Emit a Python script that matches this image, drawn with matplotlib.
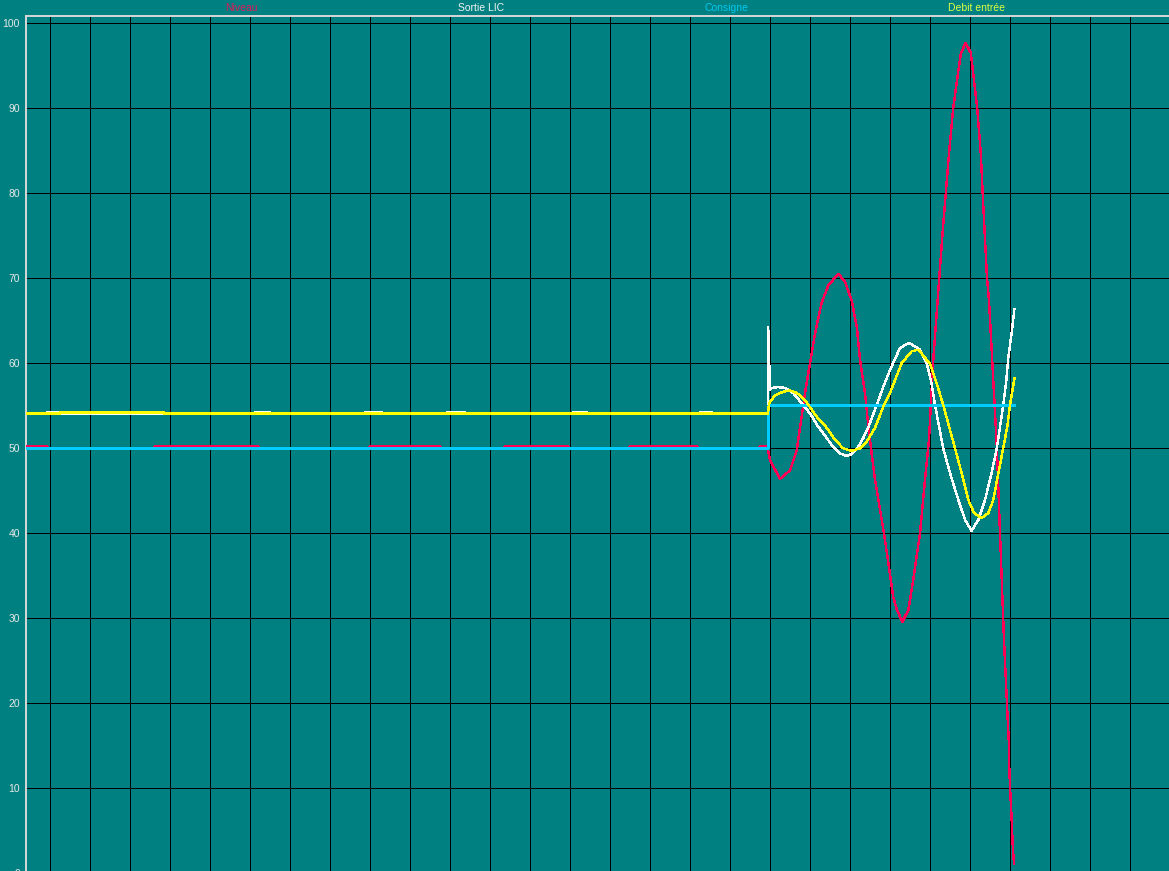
import matplotlib
matplotlib.use("Agg")
import matplotlib.pyplot as plt

# ---------------- data (time in s, grid every 10 s) ----------------
STEP_T = 179.5

niveau_t = [-6.25, -0.75, -0.5, 26.0, 26.25, 52.0, 52.25, 79.75, 80.0, 97.5, 97.75,
            113.5, 113.75, 129.5, 129.75, 144.75, 145.0, 161.75, 162.0, 177.25, 177.5,
            179.3, 180.0, 182.5, 185.0, 186.7, 187.9, 188.75, 190.0, 191.25, 192.9,
            194.6, 197.1, 198.75, 200.4, 201.7, 202.5, 203.75, 204.6, 205.4, 206.25,
            208.5, 210.2, 210.8, 211.7, 213.1, 214.6, 215.8, 217.5, 218.75, 219.75,
            220.75, 221.9, 223.25, 224.75, 225.8, 227.1, 227.75, 228.9, 230.2, 230.7,
            231.8, 232.7, 233.25, 234.25, 234.75, 236.7, 237.5, 238.5, 239.2, 239.4,
            239.7, 239.8, 240.0, 240.4, 240.7, 241.0]
niveau_v = [50.27, 50.27, 50.05, 50.05, 50.27, 50.27, 50.05, 50.05, 50.27, 50.27, 50.05,
            50.05, 50.27, 50.27, 50.05, 50.05, 50.27, 50.27, 50.05, 50.05, 50.27,
            50.27, 48.6, 46.4, 47.4, 49.8, 53.7, 56.5, 60.0, 63.5, 67.1,
            69.2, 70.5, 69.6, 67.4, 64.3, 60.4, 56.5, 52.5, 49.4, 46.3,
            40.0, 34.5, 32.5, 31.0, 29.6, 31.0, 34.5, 40.0, 46.3, 51.0,
            60.0, 67.4, 76.0, 84.7, 90.0, 94.5, 96.5, 97.7, 96.5, 94.5,
            90.0, 84.7, 79.2, 70.0, 67.4, 50.2, 40.0, 27.4, 20.4, 18.3,
            15.5, 12.7, 10.2, 6.5, 3.1, 1.1]

sortie_t = [-6.25, -0.75, -0.75, 2.25, 2.25, 25.25, 25.25, 28.5, 28.5, 51.25, 51.25,
            55.0, 55.0, 78.75, 78.75, 83.0, 83.0, 99.25, 99.25, 103.75, 103.75,
            130.75, 130.75, 134.25, 134.25, 162.5, 162.5, 165.5, 165.5, 179.45,
            179.55, 180.0, 180.5, 182.0, 183.75, 185.8, 188.3, 190.0, 192.1, 194.2,
            195.7, 197.5, 199.0, 200.4, 202.1, 203.3, 204.6, 206.7, 208.3, 210.0,
            212.5, 214.8, 217.5, 219.2, 220.4, 221.25, 222.3, 223.3, 225.0, 227.1,
            228.75, 230.4, 232.1, 233.75, 235.4, 236.7, 237.5, 238.3, 239.0, 239.6,
            240.4, 241.1]
sortie_v = [54.1, 54.1, 54.25, 54.25, 54.1, 54.1, 54.0, 54.0, 54.1, 54.1, 54.25,
            54.25, 54.1, 54.1, 54.25, 54.25, 54.1, 54.1, 54.25, 54.25, 54.1,
            54.1, 54.25, 54.25, 54.1, 54.1, 54.25, 54.25, 54.1, 54.1,
            64.3, 56.9, 57.1, 57.2, 57.1, 56.5, 55.1, 54.1, 52.5, 51.2,
            50.2, 49.4, 49.1, 49.3, 50.2, 51.2, 52.5, 55.1, 57.2, 59.2,
            61.8, 62.4, 61.6, 60.0, 57.6, 55.1, 52.5, 50.0, 47.1, 43.9,
            41.6, 40.3, 41.6, 43.9, 47.1, 50.0, 52.5, 55.1, 57.6, 60.8,
            63.5, 66.4]

consigne_t = [-6.25, STEP_T, STEP_T, 241.0]
consigne_v = [50.05, 50.05, 55.1, 55.1]

debit_t = [-6.25, 2.5, 2.5, 28.5, 28.5, 179.5, 179.75, 180.4, 181.25, 182.5,
           183.75, 185.0, 186.7, 188.3, 189.6, 191.7, 194.2, 196.25, 198.3, 200.4,
           202.5, 204.2, 206.25, 208.5, 210.0, 212.9, 215.4, 217.1, 219.2, 220.0,
           221.7, 223.3, 224.8, 226.25, 227.9, 229.6, 231.0, 232.9, 234.6, 235.8,
           237.1, 238.3, 239.3, 240.0, 241.1]
debit_v = [54.1, 54.1, 54.2, 54.2, 54.1, 54.1, 55.3, 55.7, 56.2, 56.5,
           56.7, 56.8, 56.5, 55.9, 55.1, 53.7, 52.4, 51.0, 50.0, 49.7,
           50.0, 50.8, 52.4, 55.1, 56.5, 60.0, 61.4, 61.6, 60.4, 60.0,
           57.6, 55.1, 52.5, 50.0, 47.1, 43.9, 42.4, 41.8, 42.4, 43.9,
           47.1, 50.0, 52.5, 55.1, 58.2]

series_names = ["Niveau", "Sortie LIC", "Consigne", "Debit entrée"]
line_colors = ["#ff0055", "#ffffff", "#00ccff", "#ffff00"]
text_colors = ["#dd1a5a", "#f4f4f4", "#00c8f0", "#ddff44"]
y_ticks = list(range(0, 101, 10))
x_grid = list(range(0, 280, 10))

# ---------------- figure ----------------
BG = "#008080"
W, H = 1169, 871
fig = plt.figure(figsize=(W / 100, H / 100), dpi=100, facecolor=BG)
left_px, top_px, y0_px = 25.5, 16.3, 873.3
ax = fig.add_axes([left_px / W, (H - y0_px) / H, (W - left_px) / W, (y0_px - top_px) / H])
ax.set_facecolor(BG)
ax.set_xlim(-6.125, 279.75)
ax.set_ylim(0, 100.82)

ax.set_xticks(x_grid)
ax.set_yticks(y_ticks)
ax.set_xticklabels([])
ax.set_yticklabels([str(v) for v in y_ticks], fontsize=7.5, color="#e8e8e8",
                   family=["Liberation Sans", "DejaVu Sans"])
ax.tick_params(length=0, pad=4)
ax.grid(True, color="black", linewidth=0.72, antialiased=False)
ax.set_axisbelow(True)

for s in ["right", "bottom"]:
    ax.spines[s].set_visible(False)
for s in ["left", "top"]:
    ax.spines[s].set_color("#d8d8d8")
    ax.spines[s].set_linewidth(1.4)

data = [(niveau_t, niveau_v), (sortie_t, sortie_v), (consigne_t, consigne_v), (debit_t, debit_v)]
for i, ((t, v), c) in enumerate(zip(data, line_colors)):
    ax.plot(t, v, color=c, linewidth=1.0, antialiased=False, zorder=3 + i,
            solid_joinstyle="round")

legend_x_px = [241, 481, 726, 977]
for name, xp, tc in zip(series_names, legend_x_px, text_colors):
    fig.text(xp / W, 1 - 8 / H, name, ha="center", va="center", fontsize=7.5,
             color=tc, family=["Liberation Sans", "DejaVu Sans"])

fig.savefig("out.png", dpi=100, facecolor=BG)
